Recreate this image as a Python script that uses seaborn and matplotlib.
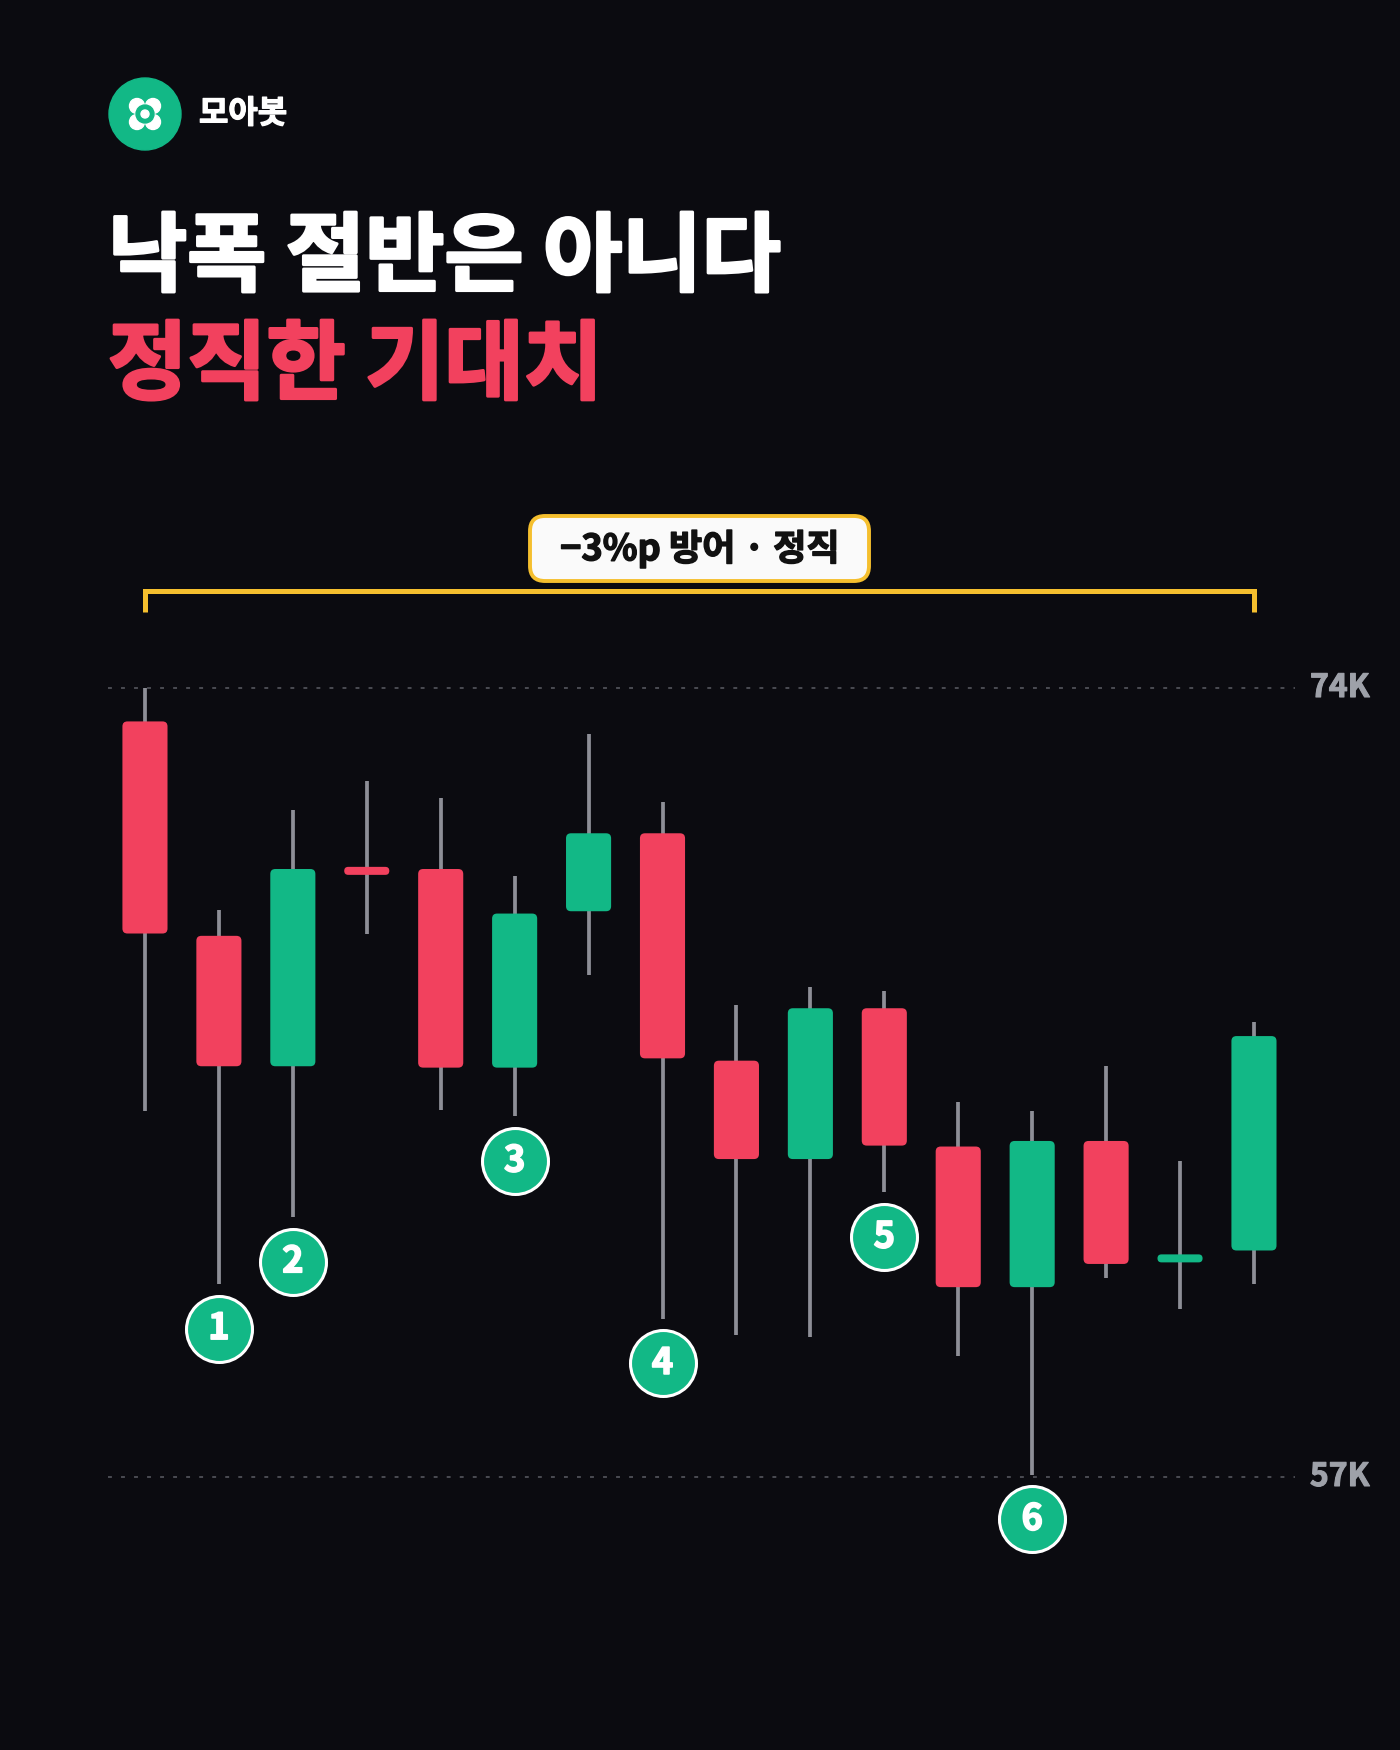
import pandas as pd
import matplotlib.pyplot as plt
import matplotlib.patheffects as pe
import seaborn as sns
from matplotlib.patches import FancyBboxPatch, Circle

BG = "#0b0b10"
RED = "#f2415e"
GREEN = "#12b886"
WICK = "#8e8f97"
YELLOW = "#f5bf2e"
GRID = "#4a4b52"
LABEL = "#9ea1a9"

# candle data (price in K)
opens = [73.28, 68.66, 65.85, 70.07, 70.10, 65.82, 69.19, 70.87, 65.97, 63.85, 67.10, 64.12, 61.09, 64.24, 61.70, 61.88]
highs = [74.00, 69.22, 71.38, 72.00, 71.62, 69.94, 73.01, 71.55, 67.17, 67.56, 67.48, 65.08, 64.89, 65.85, 63.81, 66.81]
lows = [64.89, 61.16, 62.60, 68.71, 64.91, 64.77, 67.82, 60.41, 60.05, 60.01, 63.13, 59.60, 57.05, 61.28, 60.61, 61.16]
closes = [68.71, 65.85, 70.10, 70.05, 65.82, 69.14, 70.87, 66.02, 63.85, 67.10, 64.14, 61.09, 64.24, 61.59, 61.72, 66.50]

# numbered markers under selected candles
badge_idx = [1, 2, 5, 7, 10, 12]
badge_labels = ["1", "2", "3", "4", "5", "6"]

level_values = [74, 57]
level_labels = ["74K", "57K"]

title_1 = "낙폭 절반은 아니다"
title_2 = "정직한 기대치"
brand = "모아봇"
bracket_label = "−3%p 방어 · 정직"

df = pd.DataFrame({"open": opens, "high": highs, "low": lows, "close": closes})
df["x"] = range(len(df))
df["up"] = df["close"] >= df["open"]

sns.set_theme(style="dark", rc={"figure.facecolor": BG, "axes.facecolor": "none",
                                "savefig.facecolor": BG})
plt.rcParams["font.family"] = ["Noto Sans CJK KR", "DejaVu Sans"]


def thick(color, w):
    # fake an extra-bold weight with a same-colour outline
    return [pe.withStroke(linewidth=w, foreground=color)]


fig = plt.figure(figsize=(14, 17.5), dpi=100)

# overlay axes in pixel coordinates for header decorations
deco = fig.add_axes([0, 0, 1, 1], zorder=0)
deco.set_xlim(0, 1400)
deco.set_ylim(1750, 0)
deco.axis("off")

# chart axes
ax_px = (108, 480, 1295, 1600)  # left, top, right, bottom in pixels
ax = fig.add_axes([ax_px[0] / 1400, 1 - ax_px[3] / 1750,
                   (ax_px[2] - ax_px[0]) / 1400, (ax_px[3] - ax_px[1]) / 1750], zorder=1)
xlim = (-0.5, 15.555)
ylim = (54.349, 78.482)
ax.set_xlim(*xlim)
ax.set_ylim(*ylim)
ax.axis("off")

x_per_px = (xlim[1] - xlim[0]) / (ax_px[2] - ax_px[0])
y_per_px = (ylim[1] - ylim[0]) / (ax_px[3] - ax_px[1])
aspect = y_per_px / x_per_px

# level lines + labels
for v, lab in zip(level_values, level_labels):
    ax.axhline(v, color=GRID, lw=1.4, ls=(0, (2.0, 4.7)), zorder=0)
    ax.text(16.16, v, lab, ha="center", va="center", color=LABEL,
            fontsize=23, fontweight="bold", clip_on=False, path_effects=thick(LABEL, 0.8))

# wicks
ax.vlines(df["x"], df["low"], df["high"], color=WICK, lw=2.7, zorder=1)

# bodies
body_w = 0.61
min_h = 8 * y_per_px
for _, r in df.iterrows():
    col = GREEN if r["up"] else RED
    h = abs(r["close"] - r["open"])
    if h < min_h:
        h = min_h
        bottom = (r["open"] + r["close"]) / 2 - h / 2
    else:
        bottom = min(r["open"], r["close"])
    rad_px = min(5, h / y_per_px / 2)
    ax.add_patch(FancyBboxPatch((r["x"] - body_w / 2, bottom), body_w, h,
                                boxstyle=f"round,pad=0,rounding_size={rad_px * x_per_px}",
                                mutation_aspect=aspect, fc=col, ec="none", zorder=2))

# numbered badges
bdf = pd.DataFrame({"x": badge_idx, "y": [lows[i] - 44.7 * y_per_px for i in badge_idx],
                    "label": badge_labels})
sns.scatterplot(data=bdf, x="x", y="y", s=2256, color=GREEN, edgecolor="white",
                linewidth=2.2, ax=ax, zorder=4, legend=False, clip_on=False)
for _, r in bdf.iterrows():
    ax.text(r["x"], r["y"], r["label"], ha="center", va="center", color="white",
            fontsize=26, fontweight="bold", zorder=5, path_effects=thick("white", 1.2))

# bracket over the whole range
ax.plot([0, 0, 15, 15], [75.64, 76.09, 76.09, 75.64], color=YELLOW, lw=3.6,
        solid_joinstyle="miter", solid_capstyle="butt", zorder=1, clip_on=False)

deco.add_patch(FancyBboxPatch((530, 516), 339, 65, boxstyle="round,pad=0,rounding_size=15",
                              fc="#fafafa", ec=YELLOW, lw=2.8))
deco.text(700, 549, bracket_label, ha="center", va="center", color="#111111",
          fontsize=26, fontweight="bold", path_effects=thick("#111111", 1.0))

# brand logo
deco.add_patch(Circle((145, 114), 36, color=GREEN))
for dx, dy in [(-8, -8), (8, -8), (-8, 8), (8, 8)]:
    deco.add_patch(Circle((145 + dx, 114 + dy), 7.5, color="white"))
deco.add_patch(Circle((145, 114), 9, color=GREEN))
deco.add_patch(Circle((145, 114), 4, color="white"))
deco.text(199, 114, brand, ha="left", va="center", color="white", fontsize=23,
          fontweight="bold", path_effects=thick("white", 0.9))

# title
deco.text(108, 259, title_1, ha="left", va="center", color="white", fontsize=62,
          fontweight="bold", path_effects=thick("white", 2.2))
deco.text(108, 367, title_2, ha="left", va="center", color=RED, fontsize=62,
          fontweight="bold", path_effects=thick(RED, 2.2))

fig.savefig("out.png", dpi=100, facecolor=BG)
